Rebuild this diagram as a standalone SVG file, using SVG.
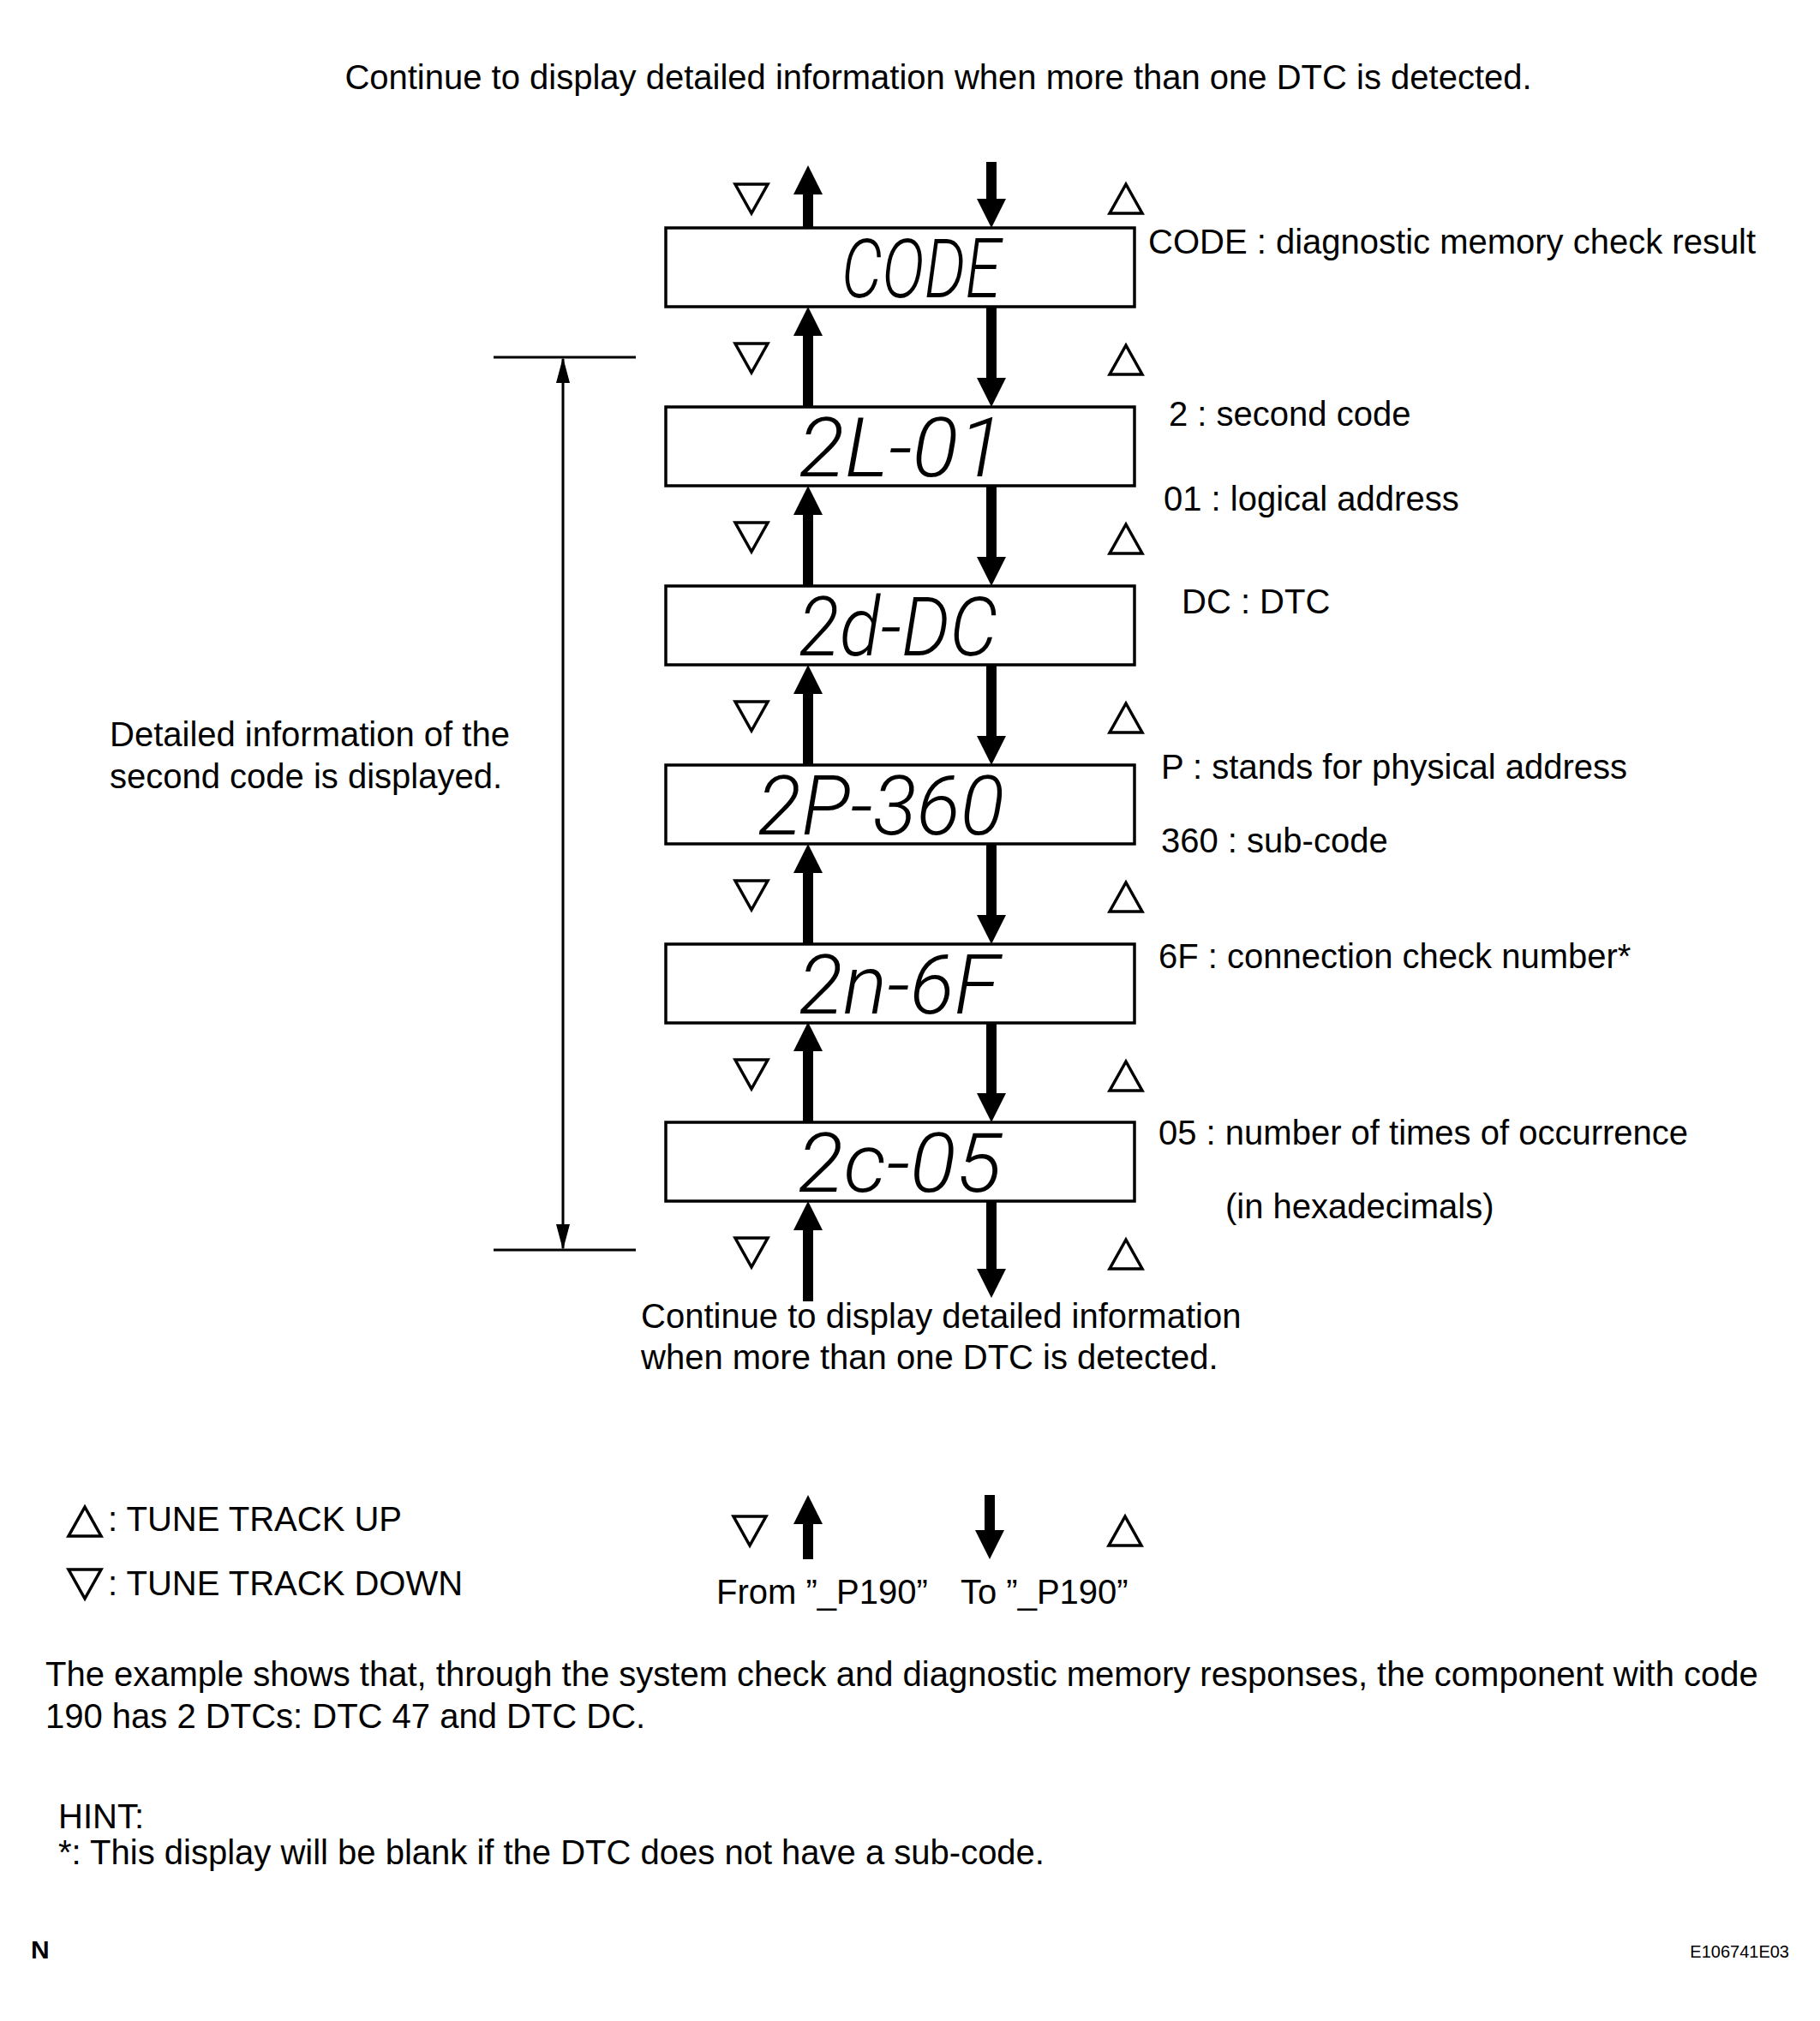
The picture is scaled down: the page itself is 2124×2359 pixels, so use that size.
<svg xmlns="http://www.w3.org/2000/svg" width="2124" height="2359" viewBox="0 0 2124 2359">
<style>
.t{font-family:"Liberation Sans",Arial,sans-serif;font-size:40px;fill:#000}
.lcd{font-family:Roboto,"DejaVu Sans",sans-serif;font-weight:300;font-style:italic;font-size:96px;fill:#000}
.box{fill:#fff;stroke:#000;stroke-width:3.5}
.tri{fill:none;stroke:#000;stroke-width:3.5;stroke-linejoin:miter}
.sh{stroke:#000;stroke-width:12;fill:none}
.dim{stroke:#000;stroke-width:3;fill:none}
</style>
<defs>
<marker id="ah" markerUnits="userSpaceOnUse" markerWidth="34" markerHeight="34" refX="0" refY="17" orient="auto" viewBox="0 0 34 34">
<path d="M0,0 L34,17 L0,34 Z" fill="#000"/>
</marker>
<marker id="dh" markerUnits="userSpaceOnUse" markerWidth="30" markerHeight="16" refX="28" refY="8" orient="auto" viewBox="0 0 30 16">
<path d="M0,0 L30,8 L0,16 Z" fill="#000"/>
</marker>
<path id="tdn" d="M-19,-17 L19,-17 L0,17 Z" class="tri"/>
<path id="tup" d="M-19,17 L19,17 L0,-17 Z" class="tri"/>
</defs>
<rect width="2124" height="2359" fill="#fff"/>

<text class="t" x="1095" y="104" text-anchor="middle">Continue to display detailed information when more than one DTC is detected.</text>

<g id="connectors">
<line class="sh" x1="943" y1="266" x2="943" y2="227" marker-end="url(#ah)"/>
<line class="sh" x1="1157" y1="189" x2="1157" y2="232" marker-end="url(#ah)"/>
<line class="sh" x1="943" y1="475" x2="943" y2="392" marker-end="url(#ah)"/>
<line class="sh" x1="1157" y1="358" x2="1157" y2="441" marker-end="url(#ah)"/>
<line class="sh" x1="943" y1="684" x2="943" y2="601" marker-end="url(#ah)"/>
<line class="sh" x1="1157" y1="567" x2="1157" y2="650" marker-end="url(#ah)"/>
<line class="sh" x1="943" y1="893" x2="943" y2="810" marker-end="url(#ah)"/>
<line class="sh" x1="1157" y1="776" x2="1157" y2="859" marker-end="url(#ah)"/>
<line class="sh" x1="943" y1="1102" x2="943" y2="1019" marker-end="url(#ah)"/>
<line class="sh" x1="1157" y1="985" x2="1157" y2="1068" marker-end="url(#ah)"/>
<line class="sh" x1="943" y1="1310" x2="943" y2="1227" marker-end="url(#ah)"/>
<line class="sh" x1="1157" y1="1193" x2="1157" y2="1276" marker-end="url(#ah)"/>
<line class="sh" x1="943" y1="1519" x2="943" y2="1436" marker-end="url(#ah)"/>
<line class="sh" x1="1157" y1="1402" x2="1157" y2="1481" marker-end="url(#ah)"/>
<line class="dim" x1="576" y1="417" x2="742" y2="417"/>
<line class="dim" x1="576" y1="1459" x2="742" y2="1459"/>
<line class="dim" x1="657" y1="938" x2="657" y2="419" marker-end="url(#dh)"/>
<line class="dim" x1="657" y1="938" x2="657" y2="1457" marker-end="url(#dh)"/>
<line class="sh" x1="943" y1="1820" x2="943" y2="1779" marker-end="url(#ah)"/>
<line class="sh" x1="1155" y1="1745" x2="1155" y2="1786" marker-end="url(#ah)"/>
</g>

<g id="triangles">
<use href="#tdn" x="877" y="232"/><use href="#tup" x="1314" y="232"/>
<use href="#tdn" x="877" y="418"/><use href="#tup" x="1314" y="420"/>
<use href="#tdn" x="877" y="627"/><use href="#tup" x="1314" y="629"/>
<use href="#tdn" x="877" y="836"/><use href="#tup" x="1314" y="838"/>
<use href="#tdn" x="877" y="1045"/><use href="#tup" x="1314" y="1047"/>
<use href="#tdn" x="877" y="1254"/><use href="#tup" x="1314" y="1256"/>
<use href="#tdn" x="877" y="1462"/><use href="#tup" x="1314" y="1464"/>
<use href="#tdn" x="875" y="1787"/><use href="#tup" x="1313" y="1787"/>
<use href="#tup" x="99" y="1776"/><use href="#tdn" x="99" y="1849"/>
</g>

<g id="node-code">
<rect class="box" x="777" y="266" width="547" height="92"/>
<text class="lcd" x="1168" y="347" text-anchor="end" textLength="186" lengthAdjust="spacingAndGlyphs">CODE</text>
<text class="t" x="1340" y="296">CODE : diagnostic memory check result</text>
</g>
<g id="node-2l01">
<rect class="box" x="777" y="475" width="547" height="92"/>
<text class="lcd" x="1172" y="556" text-anchor="end" textLength="240" lengthAdjust="spacingAndGlyphs">2L-01</text>
<text class="t" x="1364" y="497">2 : second code</text>
<text class="t" x="1358" y="596">01 : logical address</text>
</g>
<g id="node-2ddc">
<rect class="box" x="777" y="684" width="547" height="92"/>
<text class="lcd" x="1164" y="765" text-anchor="end" textLength="232" lengthAdjust="spacingAndGlyphs">2d-DC</text>
<text class="t" x="1379" y="716">DC : DTC</text>
</g>
<g id="node-2p360">
<rect class="box" x="777" y="893" width="547" height="92"/>
<text class="lcd" x="1172" y="974" text-anchor="end" textLength="288" lengthAdjust="spacingAndGlyphs">2P-360</text>
<text class="t" x="1355" y="909">P : stands for physical address</text>
<text class="t" x="1355" y="995">360 : sub-code</text>
</g>
<g id="node-2n6f">
<rect class="box" x="777" y="1102" width="547" height="92"/>
<text class="lcd" x="1166" y="1183" text-anchor="end" textLength="234" lengthAdjust="spacingAndGlyphs">2n-6F</text>
<text class="t" x="1352" y="1130">6F : connection check number*</text>
</g>
<g id="node-2c05">
<rect class="box" x="777" y="1310" width="547" height="92"/>
<text class="lcd" x="1169" y="1391" text-anchor="end" textLength="238" lengthAdjust="spacingAndGlyphs">2c-05</text>
<text class="t" x="1352" y="1336">05 : number of times of occurrence</text>
<text class="t" x="1430" y="1422">(in hexadecimals)</text>
</g>

<g id="labels">
<text class="t" x="128" y="871">Detailed information of the</text>
<text class="t" x="128" y="920">second code is displayed.</text>
<text class="t" x="748" y="1550">Continue to display detailed information</text>
<text class="t" x="748" y="1598">when more than one DTC is detected.</text>
<text class="t" x="126" y="1787">: TUNE TRACK UP</text>
<text class="t" x="126" y="1862">: TUNE TRACK DOWN</text>
<text class="t" x="836" y="1872">From ”_P190”</text>
<text class="t" x="1121" y="1872">To ”_P190”</text>
<text class="t" x="53" y="1968">The example shows that, through the system check and diagnostic memory responses, the component with code</text>
<text class="t" x="53" y="2017">190 has 2 DTCs: DTC 47 and DTC DC.</text>
<text class="t" x="68" y="2134">HINT:</text>
<text class="t" x="68" y="2176">*: This display will be blank if the DTC does not have a sub-code.</text>
<text x="36" y="2286" style="font-family:'Liberation Sans',Arial,sans-serif;font-size:30px;font-weight:bold">N</text>
<text x="2088" y="2285" text-anchor="end" style="font-family:'Liberation Sans',Arial,sans-serif;font-size:20px">E106741E03</text>
</g>
</svg>
